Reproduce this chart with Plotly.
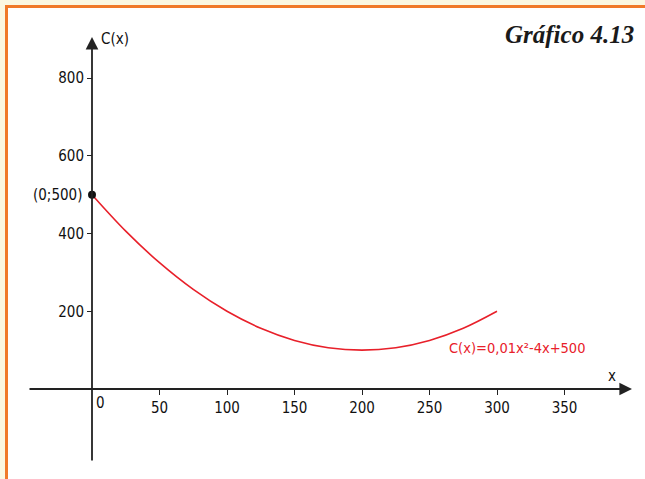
import plotly.graph_objects as go

# Data
x_vals = [0, 25, 50, 75, 100, 125, 150, 175, 200, 225, 250, 275, 300]
c_vals = [500, 406.25, 325, 256.25, 200, 156.25, 125, 106.25, 100, 106.25, 125, 156.25, 200]
x_ticks = [50, 100, 150, 200, 250, 300, 350]
y_ticks = [200, 400, 600, 800]
point_x = [0]
point_y = [500]

FONT = "'Liberation Sans Narrow', 'DejaVu Sans Condensed', 'Arial Narrow', sans-serif"
RED = "#e8202a"
AX = "#222222"

X0, X1 = -47.41, 400.0
Y0, Y1 = -187.9, 906.0

fig = go.Figure()
fig.add_trace(go.Scatter(x=x_vals, y=c_vals, mode="lines",
                         line=dict(color=RED, width=1.6, shape="spline"),
                         hoverinfo="skip", showlegend=False))
fig.add_trace(go.Scatter(x=point_x, y=point_y, mode="markers",
                         marker=dict(color="#111", size=8),
                         hoverinfo="skip", showlegend=False))

# axis lines with arrowheads
fig.add_annotation(x=X1, y=0, ax=X0, ay=0, xref="x", yref="y", axref="x", ayref="y",
                   text="", showarrow=True, arrowhead=2, arrowsize=1.4, arrowwidth=1.8,
                   arrowcolor=AX)
fig.add_annotation(x=0, y=Y1, ax=0, ay=Y0, xref="x", yref="y", axref="x", ayref="y",
                   text="", showarrow=True, arrowhead=2, arrowsize=1.4, arrowwidth=1.8,
                   arrowcolor=AX)

lab = dict(family=FONT, size=15, color="#111111")
fig.add_annotation(x=0, y=Y1, xref="x", yref="y", text="C(x)", showarrow=False,
                   xanchor="left", yanchor="middle", xshift=7, yshift=-2, font=lab)
fig.add_annotation(x=385, y=0, xref="x", yref="y", text="x", showarrow=False,
                   xanchor="center", yanchor="bottom", yshift=2, font=lab)
fig.add_annotation(x=0, y=0, xref="x", yref="y", text="0", showarrow=False,
                   xanchor="left", yanchor="top", xshift=2, yshift=-3, font=lab)
fig.add_annotation(x=0, y=500, xref="x", yref="y", text="(0;500)", showarrow=False,
                   xanchor="right", yanchor="middle", xshift=-8, font=lab)
fig.add_annotation(x=263, y=105, xref="x", yref="y", text="C(x)=0,01x²-4x+500",
                   showarrow=False, xanchor="left", yanchor="middle",
                   font=dict(family=FONT, size=14.5, color=RED))
fig.add_annotation(x=636/645, y=(479-35)/479, xref="paper", yref="paper",
                   text="<b><i>Gráfico 4.13</i></b>", showarrow=False,
                   xanchor="right", yanchor="middle",
                   font=dict(family="'Liberation Serif', 'DejaVu Serif', serif",
                             size=25, color="#1a1a1a"))

# frame: beige outer, white inner, orange border
fig.add_shape(type="rect", xref="paper", yref="paper", x0=6.5/645, x1=1.02,
              y0=-0.02, y1=(479-6.5)/479, fillcolor="white", line=dict(width=0),
              layer="below")
fig.add_shape(type="line", xref="paper", yref="paper", x0=6.5/645, x1=6.5/645,
              y0=-0.02, y1=(479-5)/479, line=dict(color="#f07a2a", width=3))
fig.add_shape(type="line", xref="paper", yref="paper", x0=5/645, x1=1.02,
              y0=(479-6.5)/479, y1=(479-6.5)/479, line=dict(color="#f07a2a", width=3))

fig.update_layout(
    width=645, height=479,
    margin=dict(l=0, r=0, t=0, b=0),
    paper_bgcolor="#fbf8e2", plot_bgcolor="rgba(0,0,0,0)",
    showlegend=False,
    xaxis=dict(domain=[28/645, 632/645], range=[X0, X1], anchor="free",
               position=(479-389)/479, showgrid=False, zeroline=False,
               showline=False, tickmode="array", tickvals=x_ticks,
               ticktext=[str(v) for v in x_ticks], ticks="outside", ticklen=5,
               tickwidth=1.3, tickcolor=AX, tickfont=lab),
    yaxis=dict(domain=[(479-462)/479, (479-37)/479], range=[Y0, Y1], anchor="free",
               position=92/645, showgrid=False, zeroline=False, showline=False,
               tickmode="array", tickvals=y_ticks,
               ticktext=[str(v) for v in y_ticks], ticks="outside", ticklen=5,
               tickwidth=1.3, tickcolor=AX, tickfont=lab),
)

fig.write_html("out.html", config={"displayModeBar": False},
               post_script="document.body.style.margin='0';document.body.style.overflow='hidden';")
